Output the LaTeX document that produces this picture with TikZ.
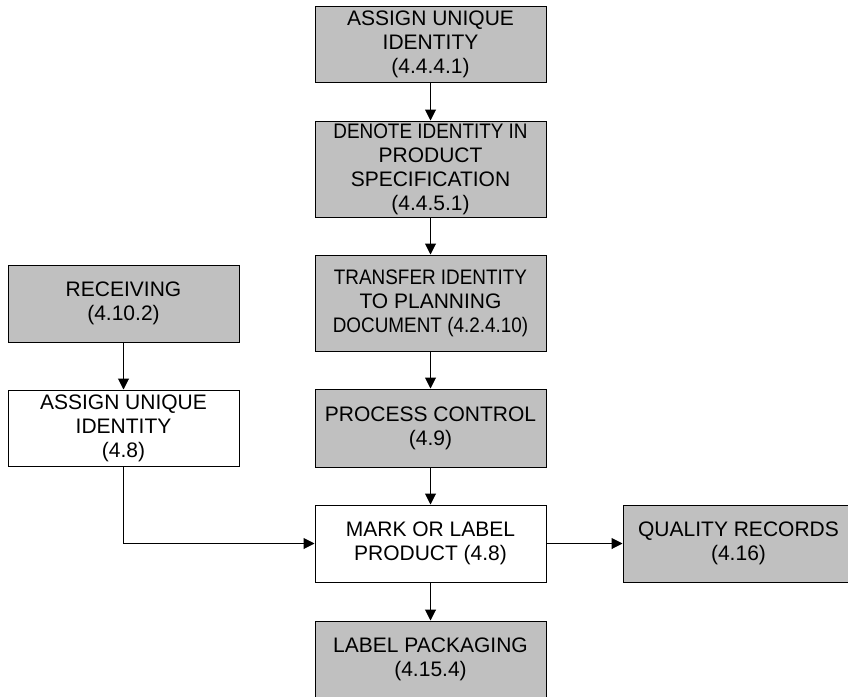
\documentclass[tikz,border=0pt]{standalone}
\usepackage{fontspec}
\setmainfont{Liberation Sans}
\usetikzlibrary{arrows.meta}
\definecolor{boxgray}{RGB}{192,192,192}
% long lines are set slightly narrower so they sit inside their box
\newcommand{\narrowline}[1]{\scalebox{0.9}[1]{#1}}
\tikzset{
  x=1pt, y=-1pt,
  stepbox/.style={draw=black, line width=1pt, inner sep=0pt,
    minimum width=231pt, minimum height=77pt, align=center,
    font=\fontsize{21}{24}\selectfont},
  grey/.style={stepbox, fill=boxgray},
  plain/.style={stepbox, fill=white},
  flow/.style={draw=black, line width=1pt, -{Triangle[length=11pt,width=11pt]}}
}
\begin{document}
\begin{tikzpicture}
\useasboundingbox (0,0) rectangle (848,696);
\clip (0,0) rectangle (848,696);
\fill[white] (0,0) rectangle (848,696);

% main column
\node[grey, minimum height=76pt] (assign) at (430.5,44) {ASSIGN UNIQUE\\IDENTITY\\(4.4.4.1)};
\node[grey, minimum height=96pt] (denote) at (430.5,169) {\narrowline{DENOTE IDENTITY IN}\\PRODUCT\\SPECIFICATION\\(4.4.5.1)};
\node[grey, minimum height=96pt] (transfer) at (430.5,303) {\narrowline{TRANSFER IDENTITY}\\TO PLANNING\\\narrowline{DOCUMENT (4.2.4.10)}};
\node[grey, minimum height=78pt] (process) at (430.5,428) {PROCESS CONTROL\\(4.9)};
\node[plain] (mark) at (430.5,543.5) {MARK OR LABEL\\PRODUCT (4.8)};
\node[grey] (packaging) at (430.5,659.5) {LABEL PACKAGING\\(4.15.4)};

% receiving branch
\node[grey] (receiving) at (123.5,303.5) {RECEIVING\\(4.10.2)};
\node[plain, minimum height=76pt] (assignrcv) at (123.5,428) {ASSIGN UNIQUE\\IDENTITY\\(4.8)};

% records
\node[grey] (records) at (738.5,543.5) {QUALITY RECORDS\\(4.16)};

% connectors
\draw[flow] (assign.south) -- (denote.north);
\draw[flow] (denote.south) -- (transfer.north);
\draw[flow] (transfer.south) -- (process.north);
\draw[flow] (process.south) -- (mark.north);
\draw[flow] (mark.south) -- (packaging.north);
\draw[flow] (receiving.south) -- (assignrcv.north);
\draw[flow] (assignrcv.south) |- (mark.west);
\draw[flow] (mark.east) -- (records.west);
\end{tikzpicture}
\end{document}
